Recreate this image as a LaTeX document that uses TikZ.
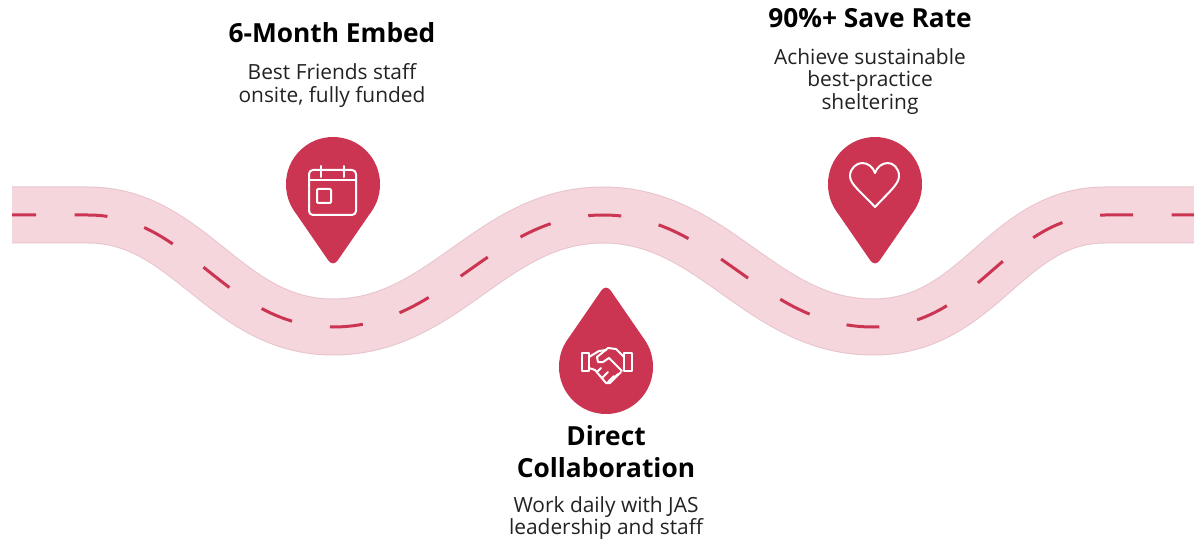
\documentclass[tikz,border=0pt]{standalone}
\usepackage{fontspec}
\usepackage{xcolor}
\setmainfont{Open Sans}
\definecolor{pinred}{RGB}{204,53,82}
\definecolor{roadpink}{RGB}{244,214,220}
\definecolor{roadedge}{RGB}{232,196,205}
\definecolor{bodygrey}{RGB}{34,34,34}
\def\roadpath{(12,215) -- (88,215) .. controls (190,215) and (225,327) .. (333,327) .. controls (445,327) and (491,215) .. (603,215) .. controls (715,215) and (761,327) .. (873,327) .. controls (980,327) and (1005,215) .. (1105,215) -- (1194,215)}

\begin{document}
\begin{tikzpicture}[x=1pt,y=-1pt,
    titletext/.style={black,font=\fontsize{26.3}{32}\selectfont\bfseries,align=center,inner sep=0pt},
    bodytext/.style={bodygrey,font=\fontsize{20.9}{22.5}\selectfont,align=center,inner sep=0pt},
    iconline/.style={draw=white,line width=2pt,line join=round,line cap=round},
    pinmark/.pic={
        \fill[pinred] (47,0) .. controls (47,14) and (42,23) .. (36,31) -- (5,76) .. controls (2,80.5) and (-2,80.5) .. (-5,76) -- (-36,31) .. controls (-42,23) and (-47,14) .. (-47,0) arc[start angle=180,end angle=360,radius=47] -- cycle;
    }]
    \useasboundingbox (0,0) rectangle (1194,540);

    % road
    \draw[roadedge,line width=57pt] \roadpath;
    \draw[roadpink,line width=55pt] \roadpath;
    \draw[pinred,line width=3pt,dash pattern=on 33pt off 38.5pt,dash phase=9pt] \roadpath;

    % pins
    \pic at (333,184) {pinmark};
    \pic[rotate=180] at (606,367) {pinmark};
    \pic at (875,184) {pinmark};

    % calendar
    \draw[iconline,rounded corners=4pt] (309,170) rectangle (356,215);
    \draw[iconline] (309,180) -- (356,180);
    \draw[iconline] (321,166) -- (321,177);
    \draw[iconline] (344,166) -- (344,177);
    \draw[iconline,rounded corners=1pt] (317,189) rectangle (331,203);

    % handshake
    \draw[iconline] (582,353) rectangle (589,371);
    \draw[iconline] (624,353) rectangle (632,371);
    \draw[iconline] (589,357) -- (599,351) -- (606,350);
    \draw[iconline] (624,357) -- (616,349) -- (608,348) -- (597,357) -- (598,362) -- (603,362) -- (609,358) -- (622,371);
    \draw[iconline] (589,368) -- (595,370) -- (606,383) -- (610,383) -- (621,372);
    \draw[iconline] (597,372) -- (601,368);
    \draw[iconline] (602,378) -- (608,372);
    \draw[iconline] (608,382) -- (614,376);
    \draw[iconline] (613,379) -- (618,374);

    % heart
    \draw[iconline] (875,207) .. controls (860,191) and (850,184) .. (850,176) .. controls (850,168) and (857,163) .. (862,163) .. controls (868,163) and (873,167) .. (875,173) .. controls (877,167) and (882,163) .. (888,163) .. controls (893,163) and (899,168) .. (899,176) .. controls (899,184) and (890,191) .. (875,207) -- cycle;

    % labels
    \node[titletext] (embedtitle) at (332,33) {6-Month Embed};
    \node[bodytext] (embedbody) at (332,85.5) {Best Friends staff\\onsite, fully funded};
    \node[titletext] (savetitle) at (870,18) {90\%+ Save Rate};
    \node[bodytext] (savebody) at (870,81.5) {Achieve sustainable\\best-practice\\sheltering};
    \node[titletext] (collabtitle) at (606,452) {Direct\\Collaboration};
    \node[bodytext] (collabbody) at (606,518) {Work daily with JAS\\leadership and staff};
\end{tikzpicture}
\end{document}
